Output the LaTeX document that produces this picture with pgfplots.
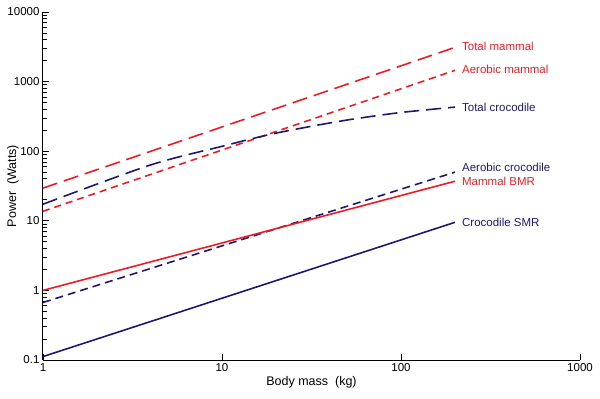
\documentclass[border=0pt]{standalone}
\usepackage{pgfplots}
\pgfplotsset{compat=1.18}
\usepackage{fontspec}
\setmainfont{Liberation Sans}
\definecolor{mred}{RGB}{237,28,36}
\definecolor{mnavy}{RGB}{30,25,110}
\begin{document}
\begin{tikzpicture}
\useasboundingbox (-43pt,-39pt) rectangle (557pt,360pt);
\begin{axis}[
  at={(0,0)}, anchor=south west,
  scale only axis, width=537pt, height=348pt,
  xmode=log, ymode=log,
  xmin=1, xmax=1000, ymin=0.1, ymax=10000,
  axis lines=left, axis line style={-, line width=1pt},
  xtick={1,10,100,1000}, xticklabels={1,10,100,1000},
  ytick={0.1,1,10,100,1000,10000}, yticklabels={0.1,1,10,100,1000,10000},
  xminorticks=false,
  tick align=inside,
  major tick length=6pt, minor tick length=4pt,
  tick style={black, line width=0.8pt},
  every tick label/.append style={font=\fontsize{11.5}{13}\selectfont},
  /pgf/number format/assume math mode=true,
  xlabel={Body mass\ \ (kg)}, ylabel={Power\ \ (Watts)},
  xlabel style={yshift=2pt, font=\fontsize{12.5}{14}\selectfont},
  every axis y label/.style={at={(axis description cs:-0.056,0.5)}, rotate=90, anchor=center, font=\fontsize{12.5}{14}\selectfont},
  clip=false,
]
\addplot[mred, line width=1.6pt, dash pattern=on 15pt off 7pt] coordinates {(1,29.5) (200,3100)};
\addplot[mred, line width=1.6pt, dash pattern=on 7pt off 5pt] coordinates {(1,13.7) (200,1450)};
\addplot[mnavy, line width=1.6pt, dash pattern=on 15pt off 7pt, smooth] coordinates {(1,17.3) (3.96,63) (10,117.5) (18.5,174) (31,226) (52,285) (99,359) (200,430)};
\addplot[mnavy, line width=1.6pt, dash pattern=on 8pt off 5pt] coordinates {(1,0.67) (200,50)};
\addplot[mred, line width=1.6pt] coordinates {(1,1.0) (200,37)};
\addplot[mnavy, line width=1.6pt] coordinates {(1,0.112) (200,9.5)};
\begin{scope}[every node/.style={anchor=west, inner sep=0pt, font=\fontsize{11.5}{13}\selectfont}]
\node[text=mred] at (axis cs:219,3240) {Total mammal};
\node[text=mred] at (axis cs:219,1513) {Aerobic mammal};
\node[text=mnavy] at (axis cs:219,430) {Total crocodile};
\node[text=mnavy] at (axis cs:219,59) {Aerobic crocodile};
\node[text=mred] at (axis cs:219,37) {Mammal BMR};
\node[text=mnavy] at (axis cs:219,9.5) {Crocodile SMR};
\end{scope}
\end{axis}
\end{tikzpicture}
\end{document}
